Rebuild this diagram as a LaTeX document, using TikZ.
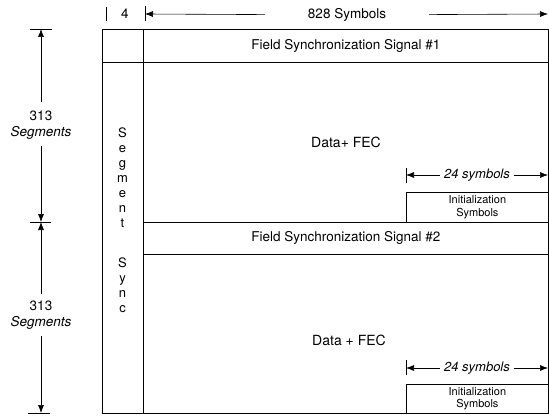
\documentclass[tikz,border=0pt]{standalone}
\usepackage{fontspec}
\setmainfont{TeX Gyre Heros}
\usetikzlibrary{arrows.meta,positioning}

\begin{document}
\begin{tikzpicture}[
    x=1pt, y=-1pt,
    cell/.style={rectangle, draw=black, line width=0.8pt, inner sep=0pt, anchor=north west, font=\fontsize{13.5}{15}\selectfont},
    initbox/.style={cell, minimum width=142pt, align=center, font=\fontsize{11}{12.5}\selectfont},
    lbl/.style={inner sep=1pt, font=\fontsize{13.5}{15.5}\selectfont},
    dimline/.style={draw, line width=0.6pt, -{Latex[length=8pt,width=6pt]}},
    bar/.style={draw, line width=0.8pt}
]
\useasboundingbox (0,0) rectangle (549,417);

% frame of the field
\node [cell, minimum width=41pt, minimum height=33pt] (corner) at (102,29) {};
\node [cell, minimum width=41pt, minimum height=351pt] (segcol) at (102,62) {};
\node [cell, minimum width=405pt, minimum height=33pt] (fs1) at (143,29) {Field Synchronization Signal \#1};
\node [cell, minimum width=405pt, minimum height=160pt] (data1) at (143,62) {};
\node [cell, minimum width=405pt, minimum height=32pt] (fs2) at (143,222) {Field Synchronization Signal \#2};
\node [cell, minimum width=405pt, minimum height=159pt] (data2) at (143,254) {};
\node [initbox, minimum height=30pt] (init1) at (406,192) {Initialization\\Symbols};
\node [initbox, minimum height=29pt] (init2) at (406,384) {Initialization\\Symbols};

\node [lbl, font=\fontsize{14}{16}\selectfont] (data1txt) at (346,142) {Data+ FEC};
\node [lbl, font=\fontsize{14}{16}\selectfont] (data2txt) at (349,340) {Data + FEC};
\node [lbl, align=center, anchor=north, inner sep=0pt, font=\fontsize{13}{15}\selectfont] (synctxt) at (122.5,128) {S\\e\\g\\m\\e\\n\\t\\[25pt]S\\y\\n\\c};

% widths along the top
\node [lbl] (w4) at (125,14) {4};
\node [lbl] (w828) at (347,15) {828 Symbols};
\coordinate (w828l) at (145,14);
\coordinate (w828r) at (548,14);
\draw [bar] (106,7) -- (106,21);
\draw [bar] (145,6) -- (145,21);
\draw [dimline, shorten <=42pt] (w828) -- (w828l);
\draw [dimline, shorten <=42pt] (w828) -- (w828r);

% initialization widths
\node [lbl, font=\fontsize{13}{15}\selectfont\itshape] (w24a) at (477,175) {24 symbols};
\coordinate (w24al) at (406,175);
\coordinate (w24ar) at (548,175);
\draw [bar] (init1.north west) ++(0,-24) -- ++(0,15);
\draw [dimline, shorten <=3pt] (w24a) -- (w24al);
\draw [dimline, shorten <=3pt] (w24a) -- (w24ar);

\node [lbl, font=\fontsize{13}{15}\selectfont\itshape] (w24b) at (477,368) {24 symbols};
\coordinate (w24bl) at (406,368);
\coordinate (w24br) at (548,368);
\draw [bar] (init2.north west) ++(0,-24) -- ++(0,15);
\draw [dimline, shorten <=3pt] (w24b) -- (w24bl);
\draw [dimline, shorten <=3pt] (w24b) -- (w24br);

% segment counts on the left
\node [lbl, align=center] (seg1) at (41,125) {313\\\textit{Segments}};
\node [lbl, align=center] (seg2) at (41,315) {313\\\textit{Segments}};
\coordinate (segtop) at (41,29);
\coordinate (segmid) at (41,222);
\coordinate (segbot) at (41,413);
\draw [bar] (30,29) -- (52,29);
\draw [bar] (30,222) -- (51,222);
\draw [bar] (28,413) -- (50,413);
\draw [dimline, shorten <=8pt] (seg1) -- (segtop);
\draw [dimline, shorten <=6pt] (seg1) -- (segmid);
\draw [dimline, shorten <=6pt] (seg2) -- (segmid);
\draw [dimline, shorten <=6pt] (seg2) -- (segbot);

\end{tikzpicture}
\end{document}
